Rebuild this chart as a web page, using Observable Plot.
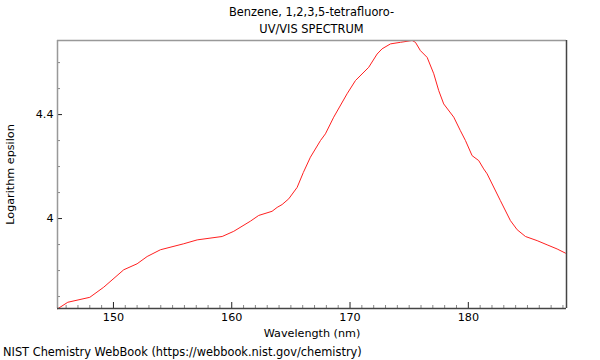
<!DOCTYPE html>
<html><head><meta charset="utf-8">
<script src="https://cdn.jsdelivr.net/npm/d3@7"></script>
<script src="https://cdn.jsdelivr.net/npm/@observablehq/plot@0.6"></script>
<style>
body{margin:0;background:#fff;font-family:"DejaVu Sans",sans-serif;color:#000;}
#wrap{width:600px;height:360px;overflow:hidden;}
.title{height:34px;position:relative;}
.title div{position:absolute;left:0;width:623px;text-align:center;font-size:11.4px;line-height:13px;}
.cap{font-size:11.4px;line-height:13px;padding-left:3px;margin-top:4px;}
svg{display:block;}
</style></head><body>
<div id="wrap">
<div class="title"><div style="top:6px">Benzene, 1,2,3,5-tetrafluoro-</div><div style="top:23px">UV/VIS SPECTRUM</div></div>
<div id="chart"></div>
<div class="cap">NIST Chemistry WebBook (https://webbook.nist.gov/chemistry)</div>
</div>
<script>
const wavelength = [145.29,146.14,148.0,149.18,150.87,152.0,152.85,153.97,155.94,157.08,159.19,160.17,161.58,162.28,163.41,163.84,164.26,164.82,165.53,166.05,166.65,167.5,167.92,168.62,169.75,170.46,171.58,172.29,172.71,173.42,174.26,175.25,175.53,175.95,176.52,177.08,177.5,177.92,178.77,179.33,179.76,180.32,180.88,181.3,181.59,182.71,183.56,184.13,184.83,185.82,186.66,187.51,188.21];
const logEpsilon = [3.653,3.678,3.697,3.736,3.803,3.826,3.854,3.88,3.903,3.918,3.931,3.951,3.99,4.012,4.028,4.043,4.054,4.076,4.12,4.177,4.236,4.3,4.326,4.39,4.48,4.531,4.582,4.633,4.653,4.672,4.678,4.685,4.678,4.646,4.62,4.557,4.492,4.441,4.39,4.338,4.3,4.242,4.223,4.191,4.172,4.069,3.992,3.957,3.931,3.915,3.899,3.883,3.867];
const xMajorTicks = [150,160,170,180];
const xMinorTicks = d3.range(146,189).filter(v => v % 10 !== 0);
const yMajorTicks = [4, 4.4];
const yMinorTicks = [3.7,3.8,3.9,4.1,4.2,4.3,4.5,4.6];
const xDomain = [145.27, 188.3];
const yDomain = [3.654, 4.685];

const data = wavelength.map((w,i) => ({w, v: logEpsilon[i]}));
const W = 600, H = 308, mt = 6, mb = 34, ml = 57, mr = 34;
const pw = W - ml - mr, ph = H - mt - mb;

const chart = Plot.plot({
  width: W, height: H,
  marginTop: mt, marginBottom: mb, marginLeft: ml, marginRight: mr,
  style: {fontFamily: '"DejaVu Sans", sans-serif', fontSize: "11px", color: "#000", background: "#fff"},
  x: {domain: xDomain},
  y: {domain: yDomain},
  marks: [
    Plot.axisX(xMajorTicks, {tickSize: 0, tickPadding: 5, fontSize: 11.2, label: "Wavelength (nm)", labelAnchor: "center", labelArrow: "none", labelOffset: 28}),
    Plot.axisY(yMajorTicks, {tickSize: 0, tickPadding: 4, fontSize: 11.2, tickFormat: d => String(d), label: "Logarithm epsilon", labelAnchor: "center", labelArrow: "none", labelOffset: 51}),
    Plot.ruleX(xMajorTicks, {stroke: "#222", insetTop: ph - 6}),
    Plot.ruleX(xMinorTicks, {stroke: "#888", insetTop: ph - 3}),
    Plot.ruleY(yMajorTicks, {stroke: "#222", insetRight: pw - 5}),
    Plot.ruleY(yMinorTicks, {stroke: "#888", insetRight: pw - 3}),
    Plot.line(data, {x: "w", y: "v", stroke: "#ff2020", strokeWidth: 1, curve: "linear"}),
    Plot.ruleY([yDomain[1]], {stroke: "#999", strokeWidth: 1.5}),
    Plot.ruleX([xDomain[0]], {stroke: "#999", strokeWidth: 1.5}),
    Plot.ruleY([yDomain[0]], {stroke: "#444", strokeWidth: 1.5}),
    Plot.ruleX([xDomain[1]], {stroke: "#444", strokeWidth: 1.5})
  ]
});
document.getElementById("chart").appendChild(chart);
</script>
</body></html>
